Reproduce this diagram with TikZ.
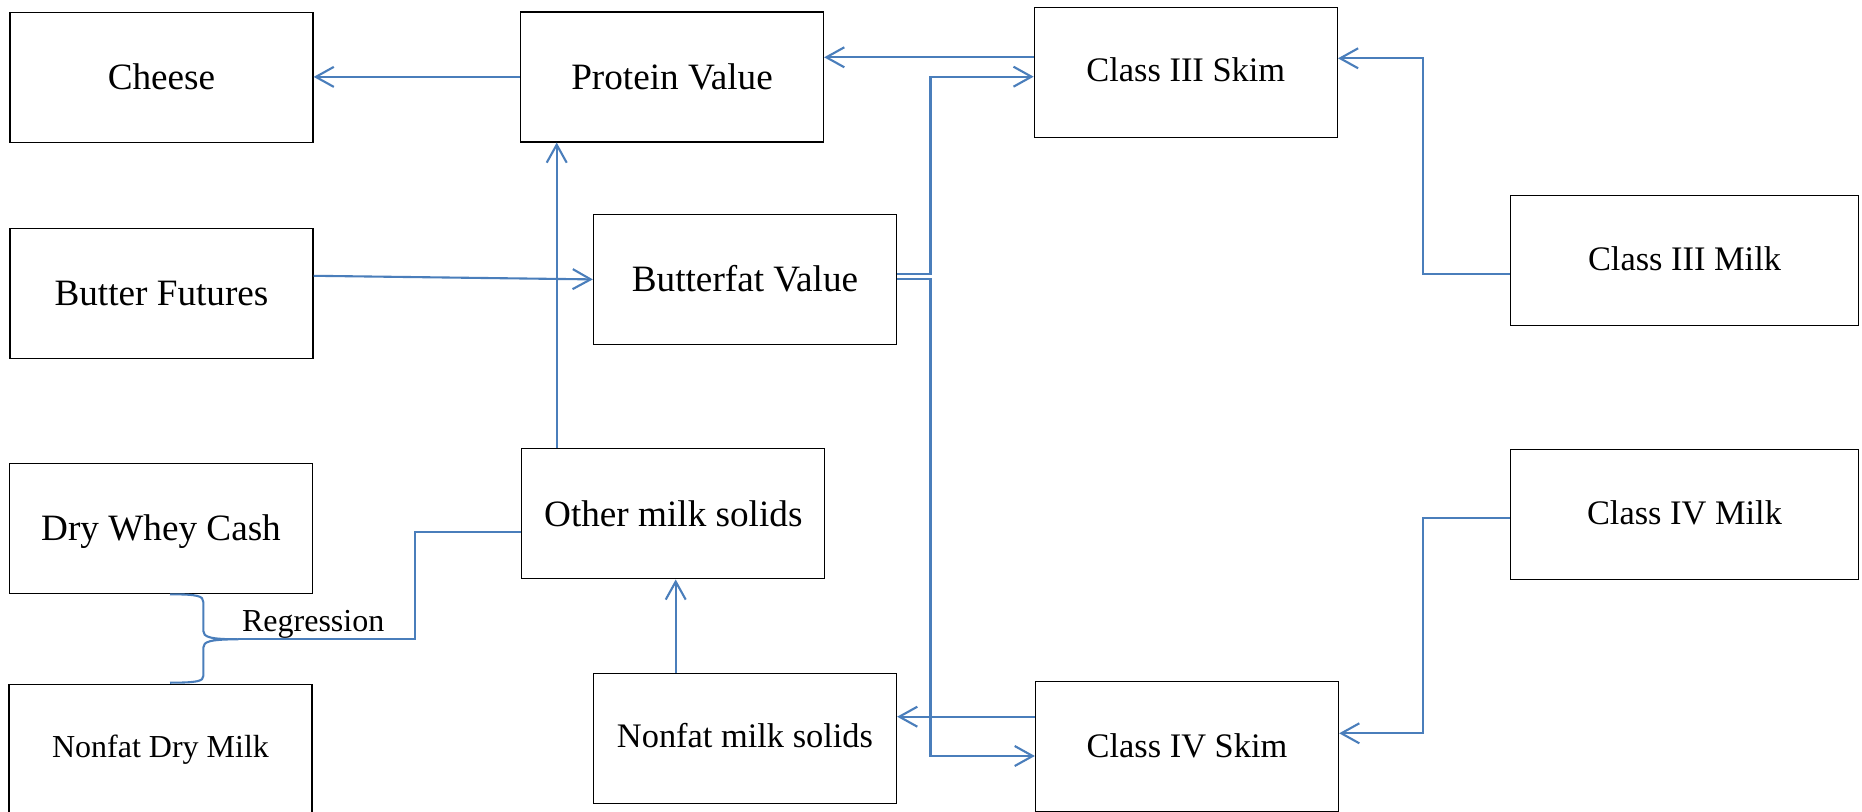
\documentclass[tikz,border=0pt]{standalone}
\usepackage{fontspec}
\setmainfont{Liberation Serif}
\usetikzlibrary{arrows.meta}
\definecolor{connblue}{RGB}{74,126,187}
\begin{document}
\begin{tikzpicture}[x=0.5pt,y=-0.5pt,
  box/.style={draw=black, line width=0.65pt, rectangle, inner sep=0pt, minimum width=151.5pt, minimum height=65pt, align=center},
  fbig/.style={font=\fontsize{18.6}{22}\selectfont, text height=12.3pt, text depth=0.5pt},
  fmid/.style={font=\fontsize{17.2}{21}\selectfont, text height=11.4pt, text depth=2pt},
  fsmall/.style={font=\fontsize{16}{19}\selectfont, text height=10.6pt, text depth=2pt},
  conn/.style={draw=connblue, line width=1.05pt},
  arr/.style={conn, -{Straight Barb[length=9pt,width=10pt]}},
]
\clip (0,0) rectangle (1862,812);
\fill[white] (0,0) rectangle (1862,812);
% boxes
\node[box,fbig] (cheese) at (161.5,77.7) {Cheese};
\node[box,fbig,text depth=-0.5pt] (protein) at (672,76.9) {Protein Value};
\node[box,fmid] (skim3) at (1185.8,72.5) {Class III Skim};
\node[box,fbig] (bfut) at (161.5,293.3) {Butter Futures};
\node[box,fbig,text depth=0pt] (bfat) at (745,279.4) {Butterfat Value};
\node[box,fmid,minimum width=174pt] (milk3) at (1684.5,260.8) {Class III Milk};
\node[box,fbig] (whey) at (161,528.2) {Dry Whey Cash};
\node[box,fbig,text depth=0pt] (other) at (673.3,513.8) {Other milk solids};
\node[box,fmid,minimum width=174pt] (milk4) at (1684.5,514.7) {Class IV Milk};
\node[box,fsmall,text depth=2.8pt] (ndm) at (160.5,749.5) {Nonfat Dry Milk};
\node[box,fmid] (nfs) at (745,738.3) {Nonfat milk solids};
\node[box,fmid,text depth=0pt] (skim4) at (1187,746.5) {Class IV Skim};
% connectors
\draw[arr] (protein.west) -- (protein.west -| cheese.east);
\coordinate (a1) at ([yshift=7.6pt]skim3.west);
\draw[arr] (a1) -- (a1 -| protein.east);
\coordinate (b1) at ([yshift=2.7pt]bfat.east);
\coordinate (s3a) at ([yshift=-2.1pt]skim3.west);
\draw[arr] (b1) -- ++(33.3,0) |- (s3a);
\coordinate (s4a) at ([yshift=-4.75pt]skim4.west);
\draw[arr] (bfat.east) -- ++(33.3,0) |- (s4a);
\coordinate (s4b) at ([yshift=14.9pt]skim4.west);
\draw[arr] (s4b) -- (s4b -| nfs.east);
\coordinate (m3) at ([yshift=-6.6pt]milk3.west);
\coordinate (s3b) at ([yshift=7.1pt]skim3.east);
\draw[arr] (m3) -- ++(-86.5,0) |- (s3b);
\coordinate (m4) at ([yshift=-1.6pt]milk4.west);
\coordinate (s4c) at ([yshift=6.6pt]skim4.east);
\draw[arr] (m4) -- ++(-86.5,0) |- (s4c);
\coordinate (n1) at ([xshift=-34.65pt]nfs.north);
\draw[arr] (n1) -- (n1 |- other.south);
\coordinate (o1) at ([xshift=-58.3pt]other.north);
\draw[arr] (o1) -- (o1 |- protein.south);
\coordinate (f1) at ([yshift=8.75pt]bfut.east);
\draw[arr] (f1) -- (bfat.west);
% brace and regression
\coordinate (btip) at (238.3,639.3);
\draw[conn] (170,594.3) .. controls (198,594.3) and (203.3,596) .. (203.3,602) -- (203.3,631)
  .. controls (203.3,637) and (210,639.3) .. (btip)
  .. controls (210,639.3) and (203.3,641.6) .. (203.3,647.6) -- (203.3,676)
  .. controls (203.3,681) and (198,682.7) .. (170,682.7);
\coordinate (o2) at ([yshift=-9.1pt]other.west);
\draw[conn] (o2) -- ++(-106.4,0) |- (btip);
\node[font=\fontsize{16}{19}\selectfont, anchor=base west, inner sep=0pt] (reg) at (241.7,631.7) {Regression};
\end{tikzpicture}
\end{document}
